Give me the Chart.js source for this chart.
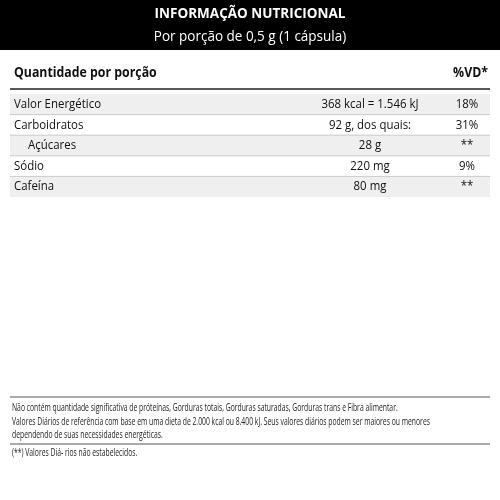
<!DOCTYPE html>
<html><head><meta charset="utf-8">
<script src="https://cdn.jsdelivr.net/npm/chart.js@4/dist/chart.umd.min.js"></script>
<style>html,body{margin:0;padding:0;background:#fff}#wrap{width:500px;height:500px}</style>
</head><body><div id="wrap"><canvas id="c" width="500" height="500"></canvas></div>
<script>
const title = "INFORMAÇÃO NUTRICIONAL";
const subtitle = "Por porção de 0,5 g (1 cápsula)";
const headLabel = "Quantidade por porção";
const headVD = "%VD*";
const rowLabels = ["Valor Energético", "Carboidratos", "Açúcares", "Sódio", "Cafeína"];
const rowIndent = [0, 0, 1, 0, 0];
const rowAmounts = ["368 kcal = 1.546 kJ", "92 g, dos quais:", "28 g", "220 mg", "80 mg"];
const rowVD = ["18%", "31%", "**", "9%", "**"];
const stripe = [1, 0, 1, 0, 1];
const footnotes = [
  "Não contém quantidade significativa de próteínas, Gorduras totais, Gorduras saturadas, Gorduras trans e Fibra alimentar.",
  "Valores Diários de referência com base em uma dieta de 2.000 kcal ou 8.400 kJ. Seus valores diários podem ser maiores ou menores",
  "dependendo de suas necessidades energéticas.",
  "(**) Valores Diá- rios não estabelecidos."
];
const F = '"Open Sans", sans-serif';
function txt(c, s, x, y, align, sx) {
  c.save(); c.translate(x, y); c.scale(sx, 1); c.textAlign = align; c.fillText(s, 0, 0); c.restore();
}
const tablePlugin = {
  id: 'table',
  beforeDraw(chart) {
    const c = chart.ctx;
    c.save();
    c.fillStyle = '#000'; c.fillRect(0, 0, 500, 50);
    c.fillStyle = '#fff'; c.textBaseline = 'middle';
    c.font = 'bold 15px ' + F; txt(c, title, 250, 14, 'center', 0.9);
    c.font = '15px ' + F; txt(c, subtitle, 250, 37, 'center', 0.9);
    c.restore();
  },
  afterDraw(chart) {
    const c = chart.ctx, y = chart.scales.y, a = chart.chartArea;
    c.save();
    c.fillStyle = '#111'; c.textBaseline = 'middle';
    c.font = 'bold 14px ' + F;
    txt(c, headLabel, 14, 73, 'left', 0.88);
    txt(c, headVD, 488, 73, 'right', 0.88);
    c.strokeStyle = '#222'; c.lineWidth = 1.5;
    c.beginPath(); c.moveTo(10, 89); c.lineTo(490, 89); c.stroke();
    c.lineWidth = 0.7; c.strokeStyle = '#bbb';
    c.font = '13px ' + F;
    rowLabels.forEach((lab, i) => {
      const py = y.getPixelForValue(i);
      txt(c, lab, 14 + rowIndent[i] * 14, py, 'left', 0.88);
      txt(c, rowAmounts[i], 370, py, 'center', 0.88);
      txt(c, rowVD[i], 467, py, 'center', 0.88);
      const by = py + (a.bottom - a.top) / rowLabels.length / 2;
      if (i < rowLabels.length - 1) { c.beginPath(); c.moveTo(10, by); c.lineTo(490, by); c.stroke(); }
    });
    c.strokeStyle = '#555'; c.lineWidth = 1;
    c.beginPath(); c.moveTo(10, 397); c.lineTo(490, 397); c.stroke();
    c.beginPath(); c.moveTo(10, 444); c.lineTo(490, 444); c.stroke();
    c.font = '10px ' + F; c.fillStyle = '#222';
    const fy = [408, 422, 435, 453];
    footnotes.forEach((t, i) => txt(c, t, 12, fy[i], 'left', 0.68));
    c.restore();
  }
};
new Chart(document.getElementById('c'), {
  type: 'bar',
  data: { labels: rowLabels, datasets: [{ data: stripe, backgroundColor: '#efefef', barPercentage: 1, categoryPercentage: 1 }] },
  options: {
    indexAxis: 'y', responsive: false, animation: false, devicePixelRatio: 1,
    layout: { padding: { top: 94, bottom: 303, left: 10, right: 10 } },
    plugins: { legend: { display: false }, tooltip: { enabled: false } },
    scales: { x: { display: false, min: 0, max: 1 }, y: { display: false } }
  },
  plugins: [tablePlugin]
});
</script></body></html>
